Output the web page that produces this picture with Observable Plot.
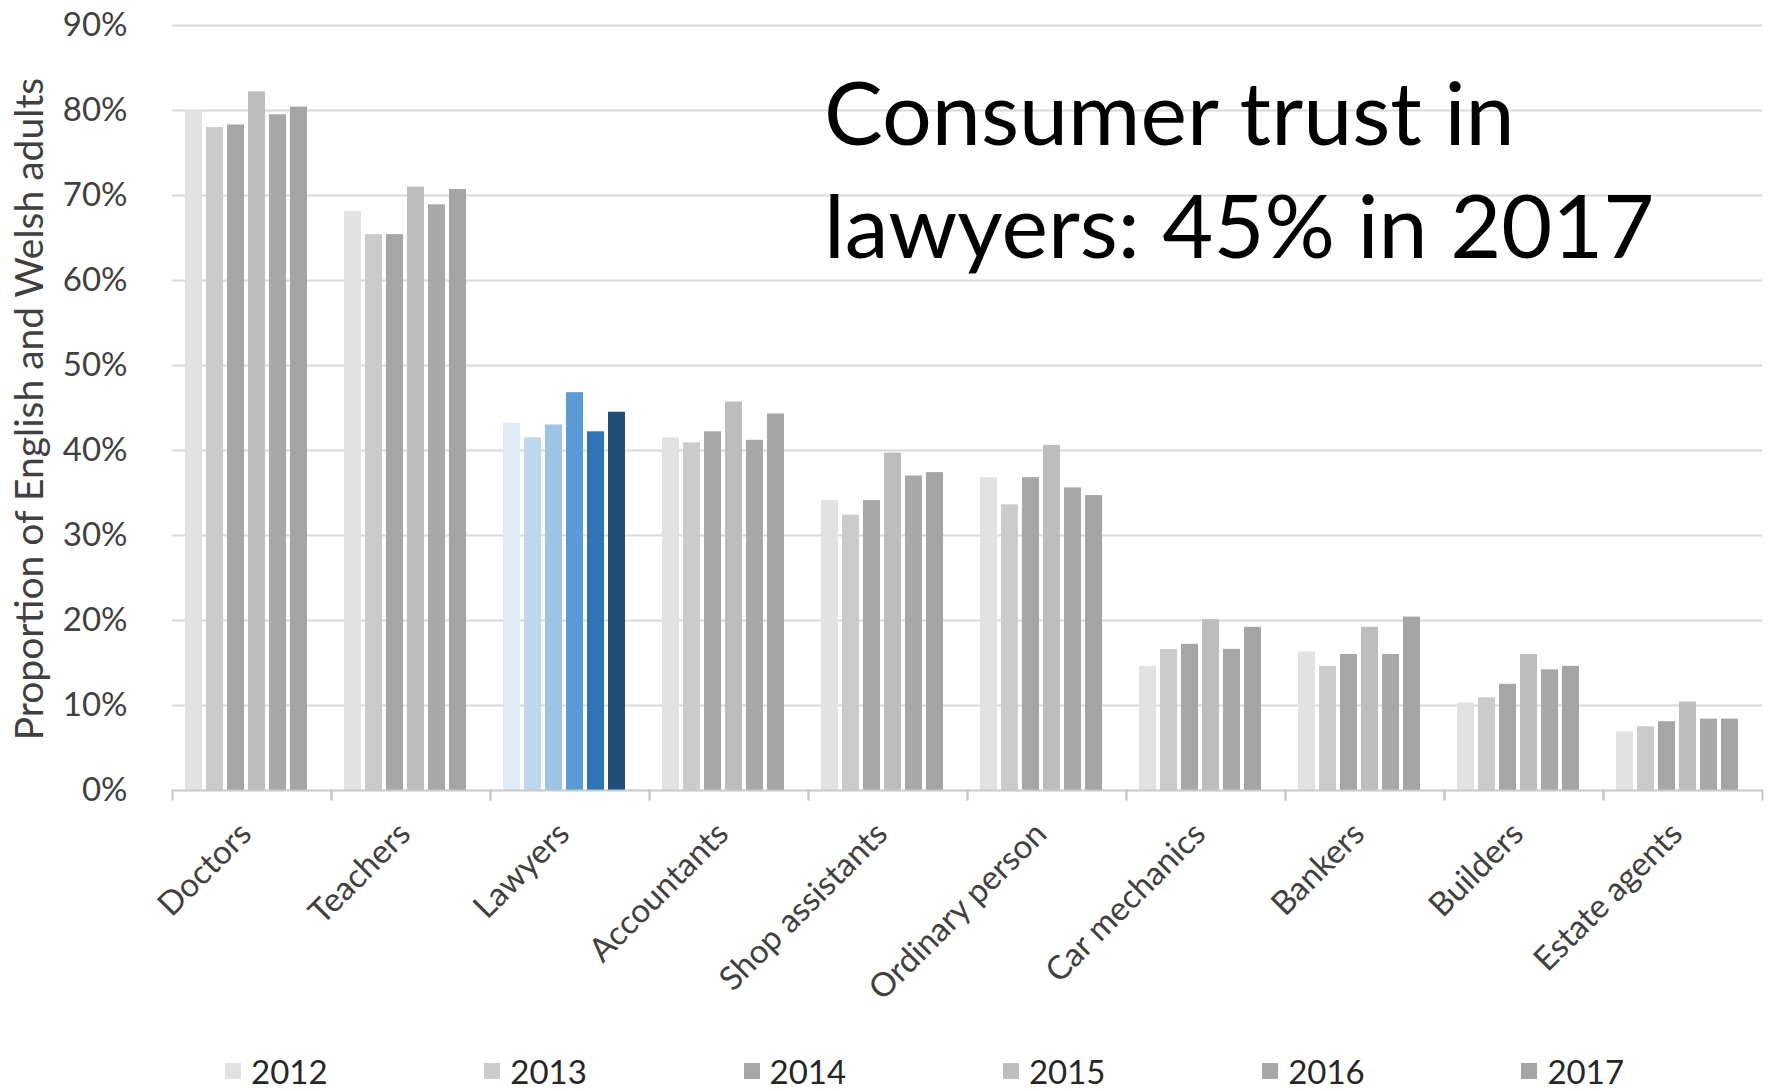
<!DOCTYPE html>
<html>
<head>
<meta charset="utf-8">
<script src="https://cdn.jsdelivr.net/npm/d3@7"></script>
<script src="https://cdn.jsdelivr.net/npm/@observablehq/plot@0.6"></script>
<style>
  body { margin: 0; background: #fff; font-family: Lato, "Open Sans", sans-serif; }
  #wrap { position: relative; width: 1777px; height: 1091px; overflow: hidden; background: #fff; }
  #chart { position: absolute; left: 0; top: 0; }
  #title { position: absolute; left: 824px; top: 55px; font-size: 88px; line-height: 113px; color: #000; white-space: nowrap; }
  #ytitle { position: absolute; left: 28px; top: 409px; transform: translate(-50%, -50%) rotate(-90deg); font-size: 39px; line-height: 46px; color: #404040; white-space: nowrap; }
  #legend { position: absolute; left: 225px; top: 1052px; height: 38px; display: flex; }
  .item { width: 259.3px; height: 38px; display: flex; align-items: center; font-size: 33px; line-height: 38px; color: #262626; }
  .sw { width: 16px; height: 16px; margin-right: 10px; flex: none; }
</style>
</head>
<body>
<div id="wrap">
  <div id="chart"></div>
  <div id="ytitle"></div>
  <div id="title">Consumer trust in<br>lawyers: 45% in 2017</div>
  <div id="legend"></div>
</div>
<script>
const categories = ["Doctors", "Teachers", "Lawyers", "Accountants", "Shop assistants", "Ordinary person", "Car mechanics", "Bankers", "Builders", "Estate agents"];
const years = ["2012", "2013", "2014", "2015", "2016", "2017"];
const v2012 = [80.0, 68.1, 43.2, 41.5, 34.1, 36.8, 14.6, 16.3, 10.3, 6.9];
const v2013 = [78.0, 65.4, 41.5, 40.9, 32.4, 33.6, 16.6, 14.6, 10.9, 7.5];
const v2014 = [78.3, 65.4, 43.0, 42.2, 34.1, 36.8, 17.2, 16.0, 12.5, 8.1];
const v2015 = [82.2, 71.0, 46.8, 45.7, 39.7, 40.6, 20.1, 19.2, 16.0, 10.4];
const v2016 = [79.5, 68.9, 42.2, 41.2, 37.0, 35.6, 16.6, 16.0, 14.2, 8.4];
const v2017 = [80.4, 70.7, 44.5, 44.3, 37.4, 34.7, 19.2, 20.4, 14.6, 8.4];
const yTicks = [0, 10, 20, 30, 40, 50, 60, 70, 80, 90];
const highlighted = "Lawyers";
const yTitle = "Proportion of English and Welsh adults";

const grays = ["#e2e2e2", "#cbcbcb", "#a6a6a6", "#bdbdbd", "#a9a8a8", "#a5a5a5"];
const blues = ["#deebf7", "#bdd7ee", "#9dc3e6", "#5b9bd5", "#2e75b6", "#1f4e79"];

const series = [v2012, v2013, v2014, v2015, v2016, v2017];
const data = [];
categories.forEach((c, i) => years.forEach((y, j) => data.push({category: c, year: y, value: series[j][i]})));

const colorOf = d => (d.category === highlighted ? blues : grays)[years.indexOf(d.year)];

const axisGray = "#c8c8c8";
const chart = Plot.plot({
  width: 1777,
  height: 1050,
  marginLeft: 167,
  marginRight: 11,
  marginTop: 25,
  marginBottom: 260,
  style: {fontFamily: "Lato, 'Open Sans', sans-serif", fontSize: "33px", color: "#404040", background: "white", overflow: "visible"},
  fx: {domain: categories, padding: 0, label: null},
  x: {domain: years, paddingInner: 0.2, paddingOuter: 0.85, align: 0.35, axis: null},
  y: {domain: [0, 90]},
  marks: [
    Plot.gridY(yTicks.filter(t => t > 0), {stroke: "#d9d9d9", strokeOpacity: 1, strokeWidth: 2}),
    Plot.axisY(yTicks, {tickFormat: d => d + "%", tickSize: 0, tickPadding: 45, fontSize: 33, label: null}),
    Plot.axisFx({anchor: "bottom", tickRotate: -45, tickSize: 0, tickPadding: 38, dx: -6, fontSize: 33, label: null}),
    Plot.barY(data, {fx: "category", x: "year", y: "value", fill: colorOf}),
    Plot.ruleY([0], {stroke: axisGray, strokeWidth: 2}),
    Plot.frame({anchor: "left", stroke: axisGray, strokeWidth: 2, strokeOpacity: 1, insetTop: 765, insetBottom: -9}),
    Plot.frame({anchor: "right", stroke: axisGray, strokeWidth: 2, strokeOpacity: 1, insetTop: 765, insetBottom: -9})
  ]
});
document.getElementById("chart").appendChild(chart);
document.getElementById("ytitle").textContent = yTitle;

const legend = document.getElementById("legend");
years.forEach((y, j) => {
  const item = document.createElement("div");
  item.className = "item";
  const sw = document.createElement("span");
  sw.className = "sw";
  sw.style.background = grays[j];
  item.appendChild(sw);
  item.appendChild(document.createTextNode(y));
  legend.appendChild(item);
});
</script>
</body>
</html>
